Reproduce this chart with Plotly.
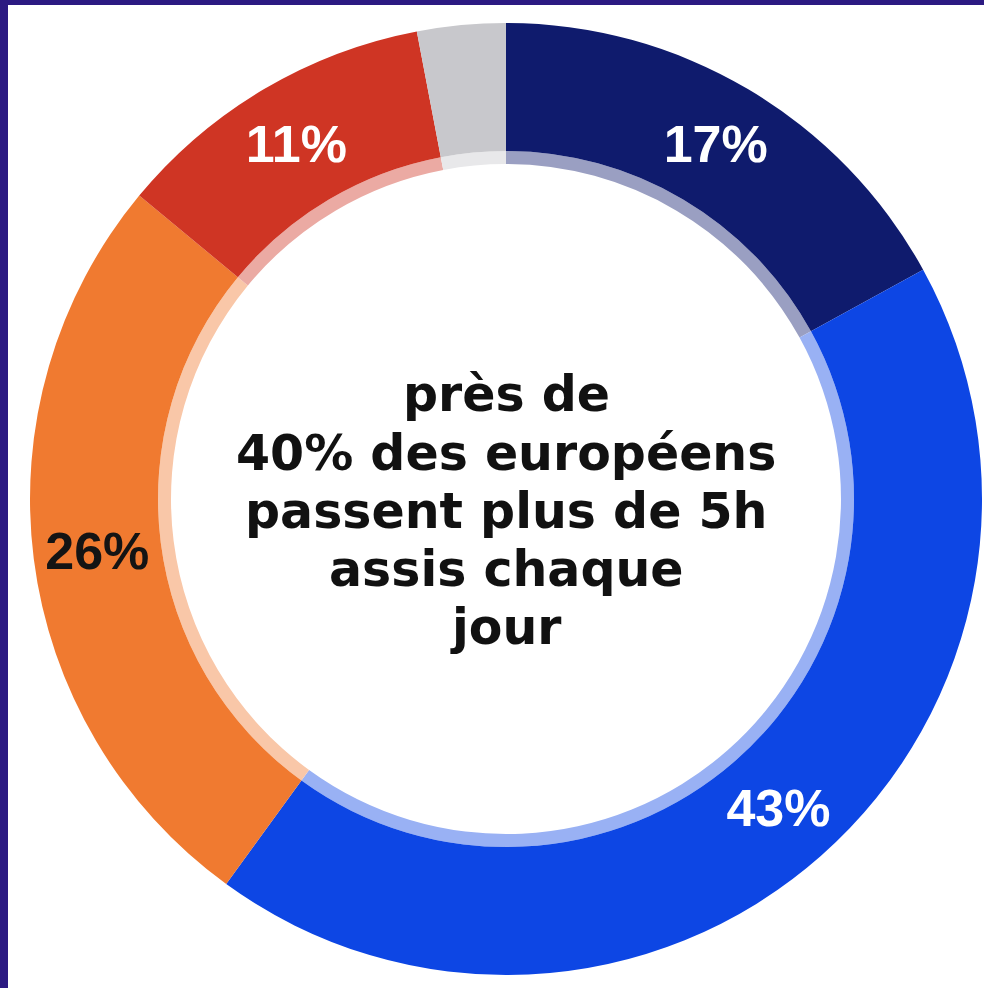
import plotly.graph_objects as go

# Share of Europeans by daily sitting time (percent), clockwise from 12 o'clock
categories = ["catégorie 1", "catégorie 2", "catégorie 3", "catégorie 4", "autre"]
values = [17, 43, 26, 11, 3]
colors = ["#0f1b6d", "#0d46e4", "#f07a30", "#cf3524", "#c8c8cc"]
label_colors = ["#ffffff", "#ffffff", "#141414", "#ffffff", "#ffffff"]
label_templates = ["%{value}%", "%{value}%", "%{value}%", "%{value}%", ""]
center_lines = ["près de", "40% des européens", "passent plus de 5h", "assis chaque", "jour"]

W, H = 984, 988
cx, cy = 506, 499          # ring centre in pixels (from top-left)
r_out, r_in, r_rim = 476, 348, 335
text_top, line_step = 395, 58   # centre line of first caption row, row spacing (px)


def domain(r):
    cy_b = H - cy
    return dict(x=[(cx - r) / W, (cx + r) / W], y=[(cy_b - r) / H, (cy_b + r) / H])


def faded(hex_color, a=0.42):
    h = hex_color.lstrip("#")
    rgb = [int(h[i:i + 2], 16) for i in (0, 2, 4)]
    mixed = [round(c * a + 255 * (1 - a)) for c in rgb]
    return "rgb({},{},{})".format(*mixed)


fig = go.Figure()

# thin pale rim on the inner edge of the ring
fig.add_trace(go.Pie(
    labels=categories, values=values, sort=False, direction="clockwise", rotation=0,
    hole=r_rim / r_in, domain=domain(r_in),
    marker=dict(colors=[faded(c) for c in colors], line=dict(width=0)),
    textinfo="none", hoverinfo="skip", showlegend=False,
))

# main donut ring
fig.add_trace(go.Pie(
    labels=categories, values=values, sort=False, direction="clockwise", rotation=0,
    hole=r_in / r_out, domain=domain(r_out),
    marker=dict(colors=colors, line=dict(width=0)),
    texttemplate=label_templates, textposition="inside",
    insidetextorientation="horizontal",
    textfont=dict(family="Liberation Sans Narrow, Arial Narrow, Liberation Sans, Arial",
                  size=52, color=label_colors, weight="bold"),
    hoverinfo="label+value", showlegend=False,
))

# caption in the hole, one row per line
for i, line in enumerate(center_lines):
    fig.add_annotation(
        text="<b>{}</b>".format(line),
        x=cx / W, y=(H - (text_top + i * line_step)) / H, xref="paper", yref="paper",
        showarrow=False, align="center", xanchor="center", yanchor="middle",
        font=dict(family="DejaVu Sans, Verdana", size=49, color="#111111"),
    )

# dark frame strips along the top and left edges
frame = "#2c1a82"
fig.add_shape(type="rect", xref="paper", yref="paper", x0=0, x1=1, y0=(H - 5) / H, y1=1,
              fillcolor=frame, line=dict(width=0), layer="above")
fig.add_shape(type="rect", xref="paper", yref="paper", x0=0, x1=8 / W, y0=0, y1=1,
              fillcolor=frame, line=dict(width=0), layer="above")

fig.update_layout(
    width=W, height=H, margin=dict(l=0, r=0, t=0, b=0),
    paper_bgcolor="#ffffff", plot_bgcolor="#ffffff",
)

fig.write_html("out.html")
